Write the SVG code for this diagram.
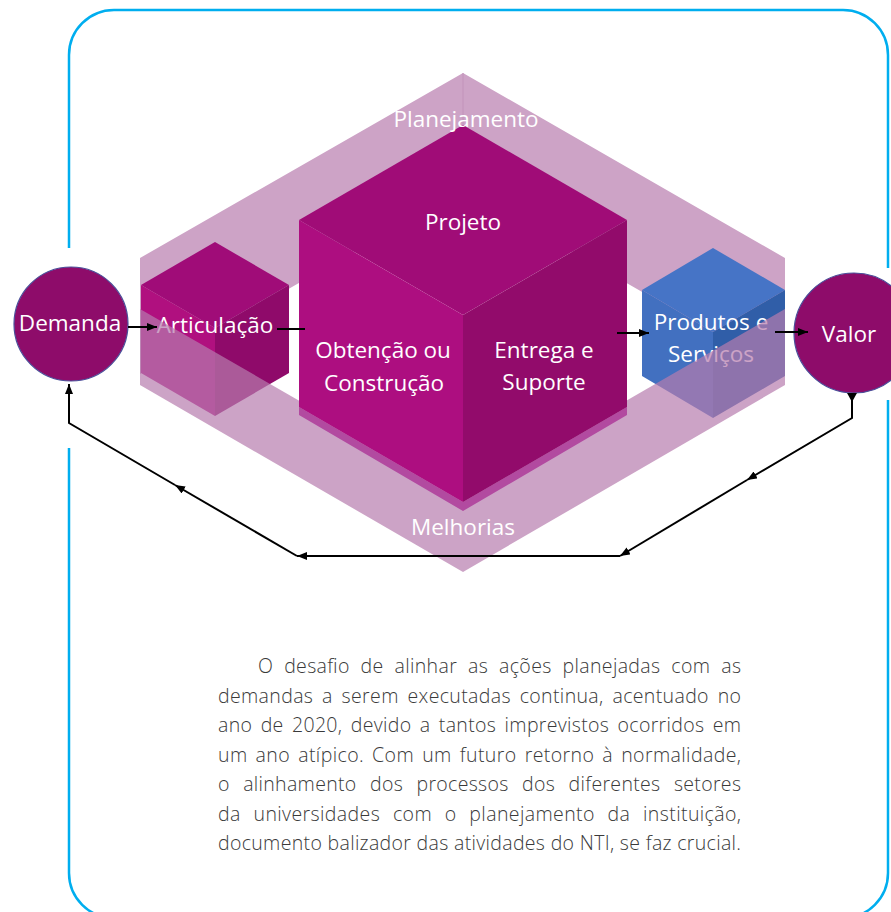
<svg xmlns="http://www.w3.org/2000/svg" width="891" height="912" viewBox="0 0 891 912">
<style>
.lbl{font-family:"Open Sans","Noto Sans","DejaVu Sans",sans-serif;font-size:22.5px;fill:#ffffff;text-anchor:middle}
.body{font-family:"Open Sans","Noto Sans","DejaVu Sans",sans-serif;font-weight:300;font-size:19.5px;fill:#3a3a3a}
.conn{stroke:#000;stroke-width:2;fill:none}
.border{stroke:#00AEEF;stroke-width:2.5;fill:none}
.circ{fill:#8E0C6A;stroke:#4a4f9a;stroke-width:1.2}
</style>
<defs>
<marker id="arr" viewBox="0 0 10 8" refX="10" refY="4" markerWidth="10" markerHeight="8" markerUnits="userSpaceOnUse" orient="auto">
<path d="M0,0 L10,4 L0,8 z" fill="#000"/>
</marker>
</defs>
<rect width="891" height="912" fill="#ffffff"/>
<g id="frame">
<path class="border" d="M69,248 L69,55 A45,45 0 0 1 114,10 L843,10 A45,45 0 0 1 888,55 L888,268"/>
<path class="border" d="M888,400 L888,873 A45,45 0 0 1 843,918 L114,918 A45,45 0 0 1 69,873 L69,448"/>
</g>
<g id="planejamento-band">
<polygon points="140,258 463,73 785,258 785,374 463,189 140,374" fill="#CDA3C6"/>
<line x1="463" y1="73" x2="463" y2="126" stroke="#C293BA" stroke-width="1"/>
</g>
<g id="articulacao">
<polygon points="215,242 289,285 215,328 141,285" fill="#A00C78"/>
<polygon points="141,285 215,328 215,416 141,373" fill="#B0107F"/>
<polygon points="215,328 289,285 289,373 215,416" fill="#8F0A6A"/>
<text class="lbl" x="215" y="333">Articulação</text>
</g>
<g id="produtos">
<polygon points="713,248 785,290 713,332 642,290" fill="#4674C6"/>
<polygon points="642,290 713,332 713,418 642,376" fill="#4270C0"/>
<polygon points="713,332 785,290 785,376 713,418" fill="#305EA8"/>
<text class="lbl" x="711" y="330">Produtos e</text>
<text class="lbl" x="711" y="362">Serviços</text>
</g>
<g id="melhorias-band">
<polygon points="140,309 463,495 785,309 785,385 463,572 140,385" fill="#B77CAE" fill-opacity="0.7"/>
</g>
<g id="projeto">
<polygon points="299,407 463,502 627,407 627,415 463,511 299,415" fill="#B24AA0"/>
<polygon points="463,125 627,220 463,315 299,220" fill="#A00C77"/>
<polygon points="299,220 463,315 463,502 299,407" fill="#AD0E80"/>
<polygon points="463,315 627,220 627,407 463,502" fill="#920B6B"/>
<text class="lbl" x="463" y="230">Projeto</text>
<text class="lbl" x="383" y="358">Obtenção ou</text>
<text class="lbl" x="384" y="391">Construção</text>
<text class="lbl" x="544" y="358">Entrega e</text>
<text class="lbl" x="544" y="390">Suporte</text>
</g>
<g id="band-labels">
<text class="lbl" x="466" y="127">Planejamento</text>
<text class="lbl" x="463" y="535">Melhorias</text>
</g>
<g id="demanda">
<circle class="circ" cx="71" cy="324" r="57"/>
<text class="lbl" x="70" y="331">Demanda</text>
</g>
<g id="valor">
<circle class="circ" cx="854" cy="333" r="60"/>
<text class="lbl" x="849" y="342">Valor</text>
</g>
<g id="connectors">
<line class="conn" x1="128" y1="327" x2="157" y2="327" marker-end="url(#arr)"/>
<line class="conn" x1="277" y1="329" x2="305" y2="329"/>
<line class="conn" x1="617" y1="333" x2="649" y2="333" marker-end="url(#arr)"/>
<line class="conn" x1="775" y1="332" x2="808" y2="332" marker-end="url(#arr)"/>
<polygon points="847,393 857,393 852,402" fill="#000"/>
<path class="conn" d="M852,396 L852,418 L747,480" marker-end="url(#arr)"/>
<path class="conn" d="M747,480 L620,556" marker-end="url(#arr)"/>
<path class="conn" d="M620,556 L297,556" marker-end="url(#arr)"/>
<path class="conn" d="M297,556 L175,485" marker-end="url(#arr)"/>
<path class="conn" d="M175,485 L69,423 L69,384" marker-end="url(#arr)"/>
</g>
<g id="paragraph">
<text class="body" x="258" y="673" word-spacing="5.5" textLength="483" lengthAdjust="spacing">O desafio de alinhar as ações planejadas com as</text>
<text class="body" x="218" y="702.5" word-spacing="3.4" textLength="523" lengthAdjust="spacing">demandas a serem executadas continua, acentuado no</text>
<text class="body" x="218" y="732" word-spacing="3" textLength="523" lengthAdjust="spacing">ano de 2020, devido a tantos imprevistos ocorridos em</text>
<text class="body" x="218" y="761.5" word-spacing="2.6" textLength="523" lengthAdjust="spacing">um ano atípico. Com um futuro retorno à normalidade,</text>
<text class="body" x="218" y="791" word-spacing="8" textLength="523" lengthAdjust="spacing">o alinhamento dos processos dos diferentes setores</text>
<text class="body" x="218" y="820.5" word-spacing="7.3" textLength="523" lengthAdjust="spacing">da universidades com o planejamento da instituição,</text>
<text class="body" x="218" y="850" textLength="523" lengthAdjust="spacing">documento balizador das atividades do NTI, se faz crucial.</text>
</g>
</svg>
